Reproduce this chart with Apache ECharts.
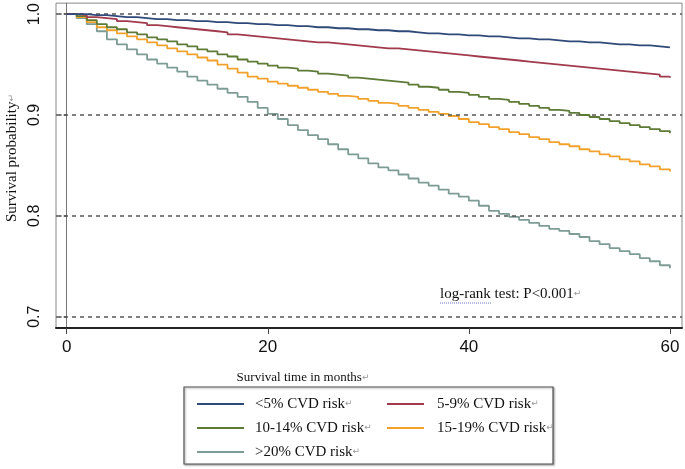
<!DOCTYPE html>
<html>
<head>
<meta charset="utf-8">
<script src="https://cdn.jsdelivr.net/npm/echarts@6/dist/echarts.min.js"></script>
<style>
html,body{margin:0;padding:0;background:#fff;}
#chart{width:685px;height:469px;}
</style>
</head>
<body>
<div id="chart"></div>
<script>
const months = [0,1,2,3,4,5,6,7,8,9,10,11,12,13,14,15,16,17,18,19,20,21,22,23,24,25,26,27,28,29,30,31,32,33,34,35,36,37,38,39,40,41,42,43,44,45,46,47,48,49,50,51,52,53,54,55,56,57,58,59,60];
const riskGroups = ['<5% CVD risk', '5-9% CVD risk', '10-14% CVD risk', '15-19% CVD risk', '>20% CVD risk'];
const survLt5 = [1.000,1.000,0.999,0.999,0.998,0.997,0.997,0.996,0.995,0.995,0.994,0.994,0.993,0.993,0.992,0.992,0.991,0.991,0.990,0.990,0.989,0.989,0.988,0.988,0.987,0.987,0.986,0.986,0.985,0.985,0.984,0.984,0.983,0.983,0.982,0.981,0.981,0.980,0.980,0.979,0.979,0.978,0.978,0.977,0.976,0.976,0.975,0.975,0.974,0.973,0.973,0.972,0.972,0.971,0.970,0.970,0.969,0.969,0.968,0.967,0.967];
const surv5to9 = [1.000,0.999,0.997,0.996,0.995,0.993,0.992,0.991,0.989,0.988,0.987,0.986,0.985,0.984,0.983,0.982,0.980,0.979,0.978,0.977,0.976,0.975,0.974,0.973,0.972,0.972,0.971,0.970,0.969,0.968,0.967,0.966,0.966,0.965,0.964,0.963,0.962,0.961,0.960,0.959,0.958,0.957,0.956,0.955,0.954,0.953,0.952,0.951,0.950,0.949,0.948,0.947,0.946,0.945,0.944,0.943,0.942,0.941,0.940,0.938,0.937];
const surv10to14 = [1.000,0.998,0.994,0.990,0.987,0.985,0.982,0.980,0.977,0.975,0.973,0.970,0.968,0.965,0.963,0.960,0.958,0.955,0.953,0.951,0.949,0.947,0.946,0.944,0.943,0.941,0.940,0.939,0.937,0.936,0.935,0.934,0.933,0.932,0.930,0.928,0.927,0.925,0.923,0.922,0.920,0.918,0.916,0.915,0.913,0.911,0.909,0.907,0.905,0.904,0.902,0.900,0.898,0.896,0.894,0.892,0.890,0.888,0.886,0.884,0.882];
const surv15to19 = [1.000,0.997,0.992,0.987,0.984,0.981,0.978,0.975,0.972,0.969,0.966,0.963,0.960,0.957,0.954,0.950,0.946,0.942,0.938,0.936,0.933,0.931,0.929,0.927,0.925,0.923,0.921,0.919,0.918,0.916,0.914,0.912,0.911,0.909,0.907,0.905,0.903,0.901,0.899,0.896,0.893,0.891,0.888,0.886,0.883,0.881,0.878,0.876,0.873,0.871,0.869,0.866,0.864,0.861,0.859,0.856,0.854,0.851,0.849,0.846,0.844];
const survGt20 = [1.000,0.996,0.990,0.983,0.975,0.970,0.965,0.960,0.955,0.951,0.947,0.943,0.938,0.934,0.930,0.926,0.922,0.918,0.913,0.907,0.901,0.896,0.890,0.885,0.880,0.876,0.871,0.866,0.861,0.857,0.852,0.848,0.845,0.841,0.837,0.833,0.830,0.826,0.822,0.819,0.815,0.810,0.805,0.802,0.799,0.796,0.793,0.790,0.787,0.785,0.782,0.779,0.775,0.772,0.768,0.765,0.762,0.758,0.755,0.751,0.748];
const xTicks = [0, 20, 40, 60];
const yTicks = [0.7, 0.8, 0.9, 1.0];
const xTitle = 'Survival time in months';
const yTitle = 'Survival probability';
const note = 'log-rank test: P<0.001';

const colors = ['#2f4a78', '#a03a4c', '#5d7a36', '#f2a22c', '#7d9c95'];
const seriesValues = [survLt5, surv5to9, surv10to14, surv15to19, survGt20];

const chart = echarts.init(document.getElementById('chart'), null, {renderer: 'canvas'});

const series = riskGroups.map((name, i) => ({
  name: name,
  type: 'line',
  step: 'end',
  showSymbol: false,
  symbol: 'none',
  animation: false,
  z: 5 - i + 2,
  data: months.map((m, k) => [m, seriesValues[i][k]]),
  lineStyle: {color: colors[i], width: 1.8},
  itemStyle: {color: colors[i]}
}));
series[0].markLine = {
  silent: true,
  symbol: 'none',
  label: {show: false},
  animation: false,
  lineStyle: {color: '#555', type: [4, 4], width: 1.5},
  data: yTicks.map(v => ({yAxis: v}))
};

const serif = '"Liberation Serif", "Times New Roman", serif';
const legendCommon = {
  orient: 'vertical',
  top: 390,
  itemGap: 6,
  icon: 'rect',
  itemHeight: 2,
  selectedMode: false,
  formatter: n => n + '{r|↵}',
  textStyle: {
    fontFamily: serif, fontSize: 15, color: '#111', lineHeight: 18,
    rich: {r: {fontSize: 9, color: '#999', fontFamily: 'DejaVu Sans'}}
  }
};

chart.setOption({
  backgroundColor: '#fff',
  animation: false,
  grid: {left: 56, right: 3, top: 3, bottom: 141, show: true, borderColor: '#888', borderWidth: 1},
  xAxis: {
    type: 'value', min: -1.06, max: 61.2,
    axisLine: {show: true, onZero: false, lineStyle: {color: '#222', width: 2}},
    axisTick: {show: true, customValues: xTicks, length: 6, lineStyle: {color: '#444', width: 1}},
    axisLabel: {customValues: xTicks, fontSize: 17, color: '#111', margin: 11, fontFamily: '"Liberation Sans", Arial, sans-serif'},
    splitLine: {show: false}
  },
  yAxis: {
    type: 'value', min: 0.6888, max: 1.0109,
    axisLine: {show: true, lineStyle: {color: '#777', width: 1}},
    axisTick: {show: true, customValues: yTicks, length: 7, lineStyle: {color: '#555', width: 1.5, type: [3, 2]}},
    axisLabel: {customValues: yTicks, rotate: 90, fontSize: 16, color: '#111', margin: 13,
      fontFamily: '"Liberation Sans", Arial, sans-serif', formatter: v => v.toFixed(1)},
    splitLine: {show: false}
  },
  legend: [
    Object.assign({}, legendCommon, {left: 192, itemWidth: 47, data: [riskGroups[0], riskGroups[2], riskGroups[4]],
      textStyle: Object.assign({}, legendCommon.textStyle, {padding: [0, 0, 0, 6]})}),
    Object.assign({}, legendCommon, {left: 382, itemWidth: 37, data: [riskGroups[1], riskGroups[3]],
      textStyle: Object.assign({}, legendCommon.textStyle, {padding: [0, 0, 0, 8]})})
  ],
  graphic: [
    {type: 'rect', shape: {x: 184, y: 387, width: 369, height: 77}, z: 0,
      style: {fill: '#fff', stroke: '#555', lineWidth: 1.2, shadowBlur: 2, shadowOffsetX: 1, shadowOffsetY: 1, shadowColor: 'rgba(0,0,0,0.35)'}},
    {type: 'text', x: 303, y: 378, z: 10,
      style: {text: xTitle + '{r|↵}', font: '13px ' + serif, fill: '#111', textAlign: 'center', textVerticalAlign: 'middle',
        rich: {r: {fontSize: 9, fill: '#999', color: '#999', fontFamily: 'DejaVu Sans'}}}},
    {type: 'text', x: 12, y: 158, rotation: Math.PI / 2, z: 10,
      style: {text: yTitle + '{r|↵}', font: '15px ' + serif, fill: '#111', textAlign: 'center', textVerticalAlign: 'middle',
        rich: {r: {fontSize: 9, fill: '#999', color: '#999', fontFamily: 'DejaVu Sans'}}}},
    {type: 'text', x: 440, y: 294, z: 10,
      style: {text: note + '{r|↵}', font: '15px ' + serif, fill: '#111', textAlign: 'left', textVerticalAlign: 'middle',
        rich: {r: {fontSize: 9, fill: '#999', color: '#999', fontFamily: 'DejaVu Sans'}}}},
    {type: 'line', z: 10, shape: {x1: 440, y1: 303, x2: 491, y2: 303},
      style: {stroke: '#6a72c8', lineWidth: 1, lineDash: [1, 1]}}
  ],
  series: series
});
</script>
</body>
</html>
